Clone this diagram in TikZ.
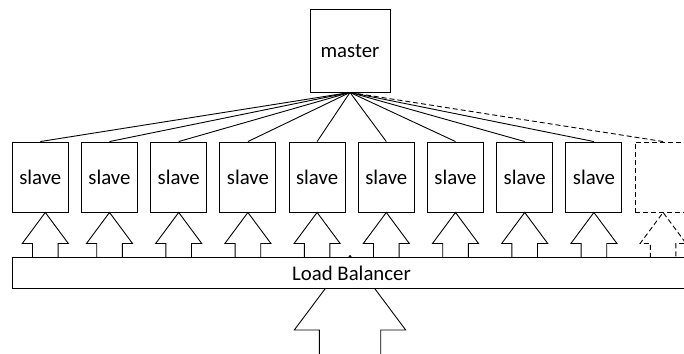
\documentclass[tikz,border=0pt]{standalone}
\usepackage{fontspec}
\setmainfont{Carlito}
\usetikzlibrary{calc}
\begin{document}
\begin{tikzpicture}[x=1pt,y=-1pt,
  line width=0.9pt,
  box/.style={draw, fill=white, rectangle, inner sep=0pt,
    font=\fontsize{20.8}{24}\selectfont},
  slavebox/.style={box, minimum width=56pt, minimum height=70pt},
  spare/.style={dash pattern=on 5pt off 3pt},
]
\useasboundingbox (0,0) rectangle (684,353);
\clip (0,0) rectangle (684,353);

% incoming traffic arrow, its tip tucked behind the balancer
\coordinate (inTip) at (350,255.5);
\draw[fill=white] (inTip) -- ++(-55.7,74.5) -- ++(25,0) -- ++(0,40)
  -- ++(61.4,0) -- ++(0,-40) -- ++(25,0) -- cycle;

% load balancer
\node[box, minimum width=679pt, minimum height=31pt] (lb) at (351.5,273) {Load Balancer};

% master
\node[box, minimum width=80pt, minimum height=83pt] (master) at (350,50.5) {master};

% slaves
\foreach \i in {0,...,8} {
  \node[slavebox] (s\i) at (40.3+69.2*\i,177) {slave};
}
\node[slavebox, spare] (s9) at (663.1,177) {};

% master to slaves
\foreach \i in {0,...,8} {
  \draw (master.south) -- (s\i.north);
}
\draw[spare] (master.south) -- (s9.north);

% balancer to slaves: hollow up arrows
\foreach \i/\dx in {0/5,1/0,2/0,3/0,4/0,5/0,6/0,7/0,8/0} {
  \draw ($(s\i.south)+(\dx-12.8,45.5)$) -- ++(0,-14.5) -- ++(-10.2,0)
    -- ($(s\i.south)+(\dx,0)$) -- ++(23,31) -- ++(-10.2,0) -- ++(0,14.5);
}
\draw[spare] ($(s9.south)+(-12.8,45.5)$) -- ++(0,-14.5) -- ++(-10.2,0)
  -- (s9.south) -- ++(23,31) -- ++(-10.2,0) -- ++(0,14.5);
\end{tikzpicture}
\end{document}
